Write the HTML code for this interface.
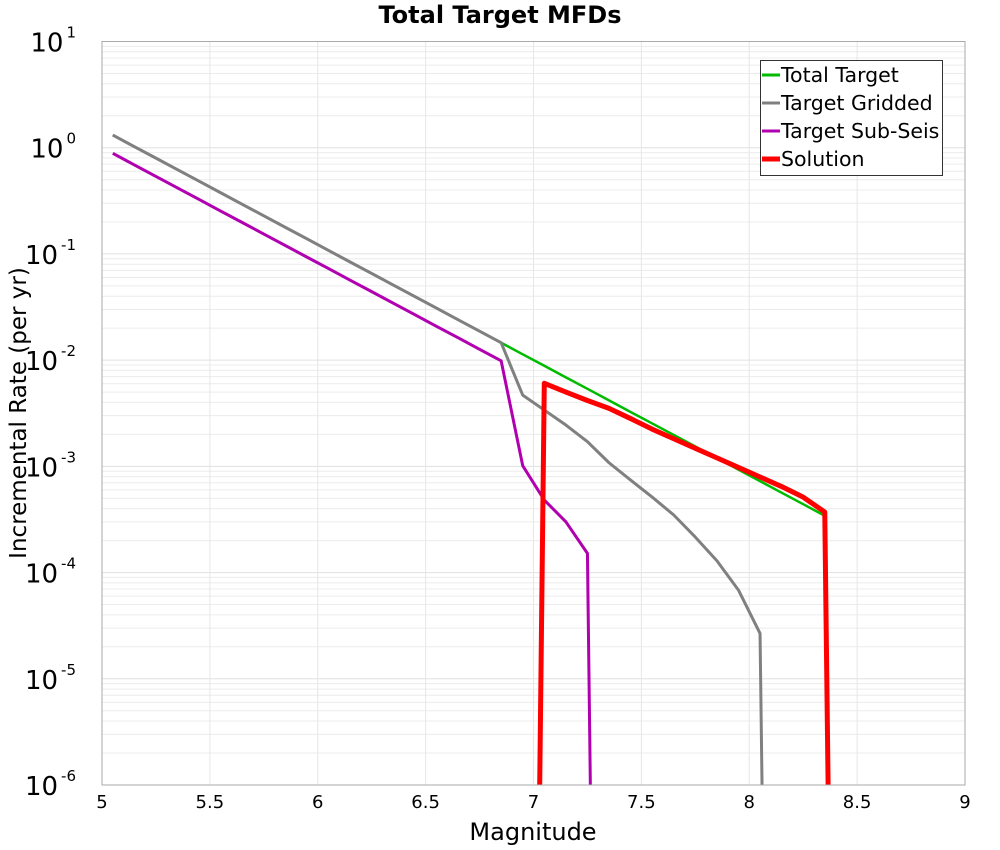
<!DOCTYPE html>
<html><head><meta charset="utf-8"><style>
html,body{margin:0;padding:0;width:1000px;height:850px;overflow:hidden;background:#fff;font-family:"DejaVu Sans","Liberation Sans",sans-serif}
svg{display:block}
svg text{font-family:"DejaVu Sans","Liberation Sans",sans-serif}
</style></head><body>
<svg id="chart" width="1000" height="850" viewBox="0 0 1000 850" xmlns="http://www.w3.org/2000/svg">
<rect width="1000" height="850" fill="#fff"/>
<g id="grid"></g>
<g id="series"></g>
<rect x="102" y="41.5" width="863" height="743.5" fill="none" stroke="#aaa" stroke-width="1"/>
<g id="axes"></g>
<text x="500" y="23" text-anchor="middle" font-size="24" font-weight="bold">Total Target MFDs</text>
<text x="533" y="840" text-anchor="middle" font-size="24">Magnitude</text>
<text transform="translate(26,413) rotate(-90)" text-anchor="middle" font-size="23">Incremental Rate (per yr)</text>
<g>
<rect x="760.5" y="60.5" width="182" height="115" fill="#fff" stroke="#333"/>
<g><line x1="762" y1="75" x2="780" y2="75" stroke="#00bb00" stroke-width="3"/><text x="781" y="82" font-size="20.5">Total Target</text></g>
<g><line x1="762" y1="103" x2="780" y2="103" stroke="#808080" stroke-width="3"/><text x="781" y="110" font-size="20.5">Target Gridded</text></g>
<g><line x1="762" y1="131" x2="780" y2="131" stroke="#b000b0" stroke-width="3"/><text x="781" y="138" font-size="20.5">Target Sub-Seis</text></g>
<g><line x1="762" y1="159" x2="780" y2="159" stroke="#ff0000" stroke-width="5"/><text x="781" y="166" font-size="20.5">Solution</text></g>
</g>
</svg>
<script>
const NS="http://www.w3.org/2000/svg";
const xTicks=[5,5.5,6,6.5,7,7.5,8,8.5,9];
const yExps=[1,0,-1,-2,-3,-4,-5,-6];
const mags=[5.05,5.15,5.25,5.35,5.45,5.55,5.65,5.75,5.85,5.95,6.05,6.15,6.25,6.35,6.45,6.55,6.65,6.75,6.85,6.95,7.05,7.15,7.25,7.35,7.45,7.55,7.65,7.75,7.85,7.95,8.05,8.15,8.25,8.35,8.45];
const totalLog=[0.119,0.010,-0.098,-0.207,-0.315,-0.424,-0.533,-0.641,-0.750,-0.858,-0.967,-1.076,-1.184,-1.293,-1.401,-1.510,-1.619,-1.727,-1.836,-1.945,-2.053,-2.162,-2.270,-2.379,-2.488,-2.596,-2.705,-2.813,-2.922,-3.031,-3.139,-3.248,-3.356,-3.465,null];
const griddedLog=[0.119,0.010,-0.098,-0.207,-0.315,-0.424,-0.533,-0.641,-0.750,-0.858,-0.967,-1.076,-1.184,-1.293,-1.401,-1.510,-1.619,-1.727,-1.836,-2.329,-2.47,-2.611,-2.768,-2.966,-3.129,-3.289,-3.458,-3.666,-3.889,-4.165,-4.573,-20,null,null,null];
const subSeisLog=[-0.053,-0.162,-0.270,-0.379,-0.487,-0.596,-0.704,-0.813,-0.921,-1.030,-1.138,-1.247,-1.355,-1.464,-1.572,-1.681,-1.789,-1.898,-2.006,-2.994,-3.317,-3.522,-3.819,-20,null,null,null,null,null,null,null,null,null,null,null];
const solutionLog=[null,null,null,null,null,null,null,null,null,null,null,null,null,null,null,null,null,null,null,-20,-2.218,-2.30,-2.38,-2.454,-2.55,-2.65,-2.74,-2.83,-2.92,-3.01,-3.10,-3.19,-3.29,-3.43,-20];
const X0=102,X1=965,Y0=41.5,Y1=785;
const xs=m=>X0+(m-5)/4*(X1-X0);
const ys=l=>Y0+(1-l)/7*(Y1-Y0);
const grid=document.getElementById('grid'),axes=document.getElementById('axes'),ser=document.getElementById('series');
function mk(tag,attrs,parent){const e=document.createElementNS(NS,tag);for(const k in attrs)e.setAttribute(k,attrs[k]);parent.appendChild(e);return e;}
for(let e=1;e>-6;e--){for(let k=2;k<=9;k++){const y=ys(e-1+Math.log10(k));const l=mk('line',{x1:X0,x2:X1,y1:y,y2:y,stroke:'#ececec','stroke-width':1},grid);

}}
yExps.forEach(e=>{const y=ys(e);const l=mk('line',{x1:X0,x2:X1,y1:y,y2:y,stroke:'#e0e0e0','stroke-width':1},grid);


const t=mk('text',{x:76,y:y+10,'text-anchor':'end','font-size':'26'},axes);


t.textContent='10';const s=mk('tspan',{dx:3,dy:-14,'font-size':'15'},t);s.textContent=String(e);});
xTicks.forEach(v=>{const x=xs(v);const l=mk('line',{x1:x,x2:x,y1:Y0,y2:Y1,stroke:'#e6e6e6','stroke-width':1},grid);


const t=mk('text',{x:x,y:808,'text-anchor':'middle','font-size':'18'},axes);


t.textContent=String(v);});
const cp=mk('clipPath',{id:'cp'},ser);mk('rect',{x:X0,y:Y0,width:X1-X0,height:Y1-Y0},cp);
function drawSeries(arr,color,w,name){let d='';let pen=false;arr.forEach((v,i)=>{if(v===null){pen=false;return;}d+=(pen?'L':'M')+xs(mags[i]).toFixed(2)+','+ys(v).toFixed(2);pen=true;});
const p=mk('path',{d:d,fill:'none',stroke:color,'stroke-width':w,'stroke-linejoin':'round','clip-path':'url(#cp)'},ser);

}
drawSeries(totalLog,'#00bb00',2.5,'series-total-target');
drawSeries(griddedLog,'#808080',3,'series-target-gridded');
drawSeries(subSeisLog,'#b000b0',3,'series-target-sub-seis');
drawSeries(solutionLog,'#ff0000',5,'series-solution');
</script>
</body></html>
